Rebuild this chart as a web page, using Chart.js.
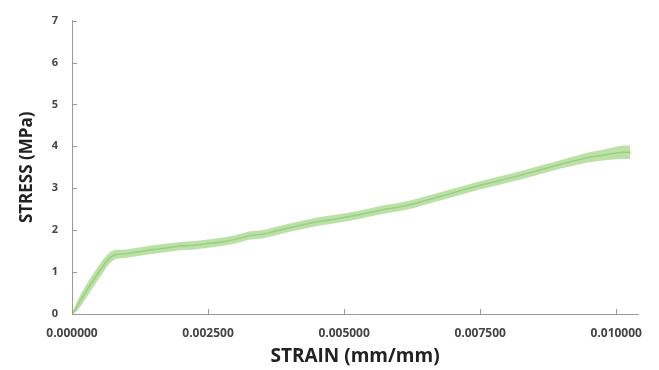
<!DOCTYPE html>
<html>
<head>
<meta charset="utf-8">
<script src="https://cdn.jsdelivr.net/npm/chart.js@4.4.1/dist/chart.umd.min.js"></script>
<style>
html,body{margin:0;padding:0;background:#fff;}
#wrap{width:659px;height:370px;position:relative;}
</style>
</head>
<body>
<div id="wrap"><canvas id="c" width="659" height="370"></canvas></div>
<script>
const strain = [0,0.0001,0.0002,0.0003,0.0004,0.0005,0.0006,0.0007,0.0008,0.0009,0.001,0.00125,0.0015,0.00175,0.002,0.00225,0.0025,0.00275,0.003,0.00325,0.0035,0.00375,0.004,0.00425,0.0045,0.00475,0.005,0.00525,0.0055,0.00575,0.006,0.00625,0.0065,0.00675,0.007,0.00725,0.0075,0.00775,0.008,0.00825,0.0085,0.00875,0.009,0.00925,0.0095,0.00975,0.01,0.0101,0.01026];
const stress = [0,0.2,0.41,0.62,0.82,1.01,1.2,1.35,1.42,1.43,1.44,1.49,1.54,1.58,1.62,1.64,1.68,1.72,1.78,1.87,1.9,1.98,2.06,2.13,2.2,2.25,2.3,2.36,2.43,2.5,2.55,2.62,2.71,2.8,2.89,2.98,3.07,3.15,3.23,3.31,3.4,3.49,3.58,3.66,3.74,3.79,3.84,3.86,3.86];
const spread = [0.02,0.12,0.15,0.16,0.16,0.16,0.15,0.13,0.11,0.1,0.1,0.1,0.1,0.1,0.1,0.1,0.1,0.1,0.1,0.1,0.1,0.1,0.1,0.1,0.1,0.1,0.1,0.1,0.1,0.1,0.1,0.1,0.1,0.1,0.1,0.1,0.1,0.1,0.1,0.1,0.1,0.1,0.1,0.11,0.12,0.13,0.15,0.16,0.16];
const xTicks = [0,0.0025,0.005,0.0075,0.01];
const yTicks = [0,1,2,3,4,5,6,7];

const lower = strain.map((x,i)=>({x, y: stress[i]-spread[i]}));
const upper = strain.map((x,i)=>({x, y: stress[i]+spread[i]}));
const mid = strain.map((x,i)=>({x, y: stress[i]}));

const innerTicks = {
  id:'innerTicks',
  afterDraw(chart){
    const ctx = chart.ctx, xs = chart.scales.x, ys = chart.scales.y;
    ctx.save();
    ctx.strokeStyle = '#9a9a9a';
    ctx.lineWidth = 1;
    ctx.beginPath();
    yTicks.forEach(v=>{const p=Math.round(ys.getPixelForValue(v))+0.5; ctx.moveTo(xs.left, p); ctx.lineTo(xs.left+5, p);});
    xTicks.forEach(v=>{const p=Math.round(xs.getPixelForValue(v))+0.5; ctx.moveTo(p, ys.bottom); ctx.lineTo(p, ys.bottom-5);});
    ctx.stroke();
    ctx.restore();
  }
};

new Chart(document.getElementById('c'), {
  type:'scatter',
  data:{datasets:[
    {data:lower, showLine:true, borderWidth:0, borderColor:'rgba(0,0,0,0)', pointRadius:0, fill:false},
    {data:upper, showLine:true, borderWidth:0, borderColor:'rgba(0,0,0,0)', pointRadius:0, fill:'-1', backgroundColor:'rgba(170,218,145,0.8)'},
    {data:mid, showLine:true, borderWidth:1.5, borderColor:'#5f9d4c', pointRadius:0, fill:false}
  ]},
  options:{
    responsive:false, animation:false,
    layout:{padding:{left:17, right:21, top:20, bottom:2}},
    plugins:{legend:{display:false}, tooltip:{enabled:false}},
    scales:{
      x:{type:'linear', min:0, max:0.0104,
        afterFit(s){s.height=54;},
        grid:{display:false, drawTicks:false},
        border:{color:'#9a9a9a', width:1},
        afterBuildTicks(s){s.ticks = xTicks.map(v=>({value:v}));},
        ticks:{padding:12, color:'#444', font:{family:'Open Sans', size:12, weight:'bold'}, maxRotation:0, callback:v=>Number(v).toFixed(6)},
        title:{display:true, text:'STRAIN (mm/mm)', color:'#222', padding:{top:0,bottom:0}, font:{family:'Open Sans', size:19, weight:'bold'}}
      },
      y:{min:0, max:7,
        afterFit(s){s.width=55;},
        grid:{display:false, drawTicks:false},
        border:{color:'#9a9a9a', width:1},
        afterBuildTicks(s){s.ticks = yTicks.map(v=>({value:v}));},
        ticks:{padding:14, color:'#444', font:{family:'Open Sans', size:11, weight:'bold'}},
        title:{display:true, text:'STRESS (MPa)', color:'#222', padding:{top:0,bottom:0}, font:{family:'Open Sans', size:17, weight:'bold'}}
      }
    }
  },
  plugins:[innerTicks]
});
</script>
</body>
</html>
